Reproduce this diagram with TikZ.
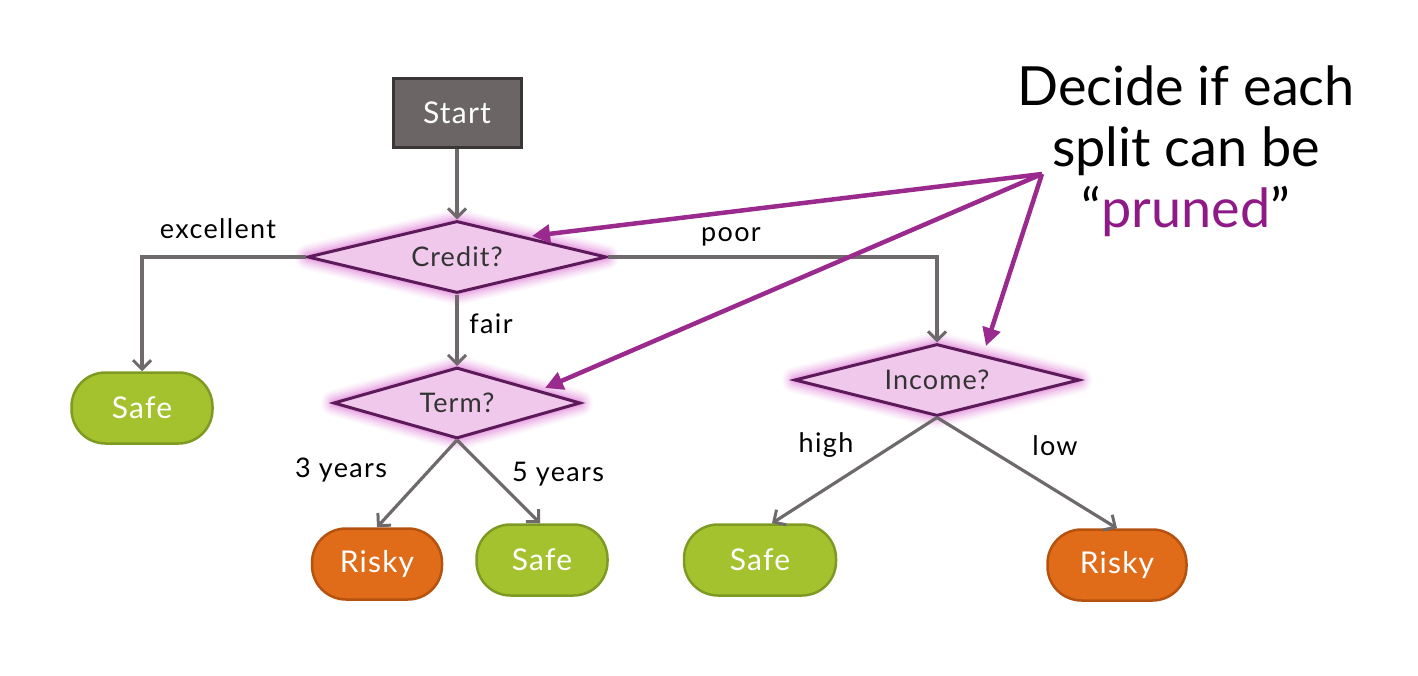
\documentclass[tikz,border=0pt]{standalone}
\usepackage{fontspec}
\setmainfont{Lato}
\newfontfamily\lblfont[LetterSpace=5]{Lato}
\newfontfamily\nodefont[LetterSpace=4]{Lato}
\usetikzlibrary{shapes.geometric,arrows.meta}
\definecolor{startfill}{HTML}{6B6565}
\definecolor{startdraw}{HTML}{3A3636}
\definecolor{dfill}{HTML}{F0C8EC}
\definecolor{ddraw}{HTML}{5C1A5A}
\definecolor{glow}{HTML}{D868D0}
\definecolor{gfill}{HTML}{A4C22E}
\definecolor{gdraw}{HTML}{7E9A22}
\definecolor{ofill}{HTML}{E06C1A}
\definecolor{odraw}{HTML}{B5520F}
\definecolor{conn}{HTML}{6E6A6B}
\definecolor{parrow}{HTML}{9B2A8E}
\definecolor{ptext}{HTML}{8F1A87}
\tikzset{
  startbox/.style={rectangle, fill=startfill, draw=startdraw, line width=3pt, minimum width=128pt, minimum height=69pt, text=white, font=\nodefont\fontsize{30}{36}\selectfont},
  decision/.style={diamond, inner sep=0pt, fill=dfill, draw=ddraw, line width=3pt, text=black!80, font=\nodefont\fontsize{27}{30}\selectfont,
    preaction={draw=glow, draw opacity=0.06, line width=26pt, line join=round},
    preaction={draw=glow, draw opacity=0.08, line width=22pt, line join=round},
    preaction={draw=glow, draw opacity=0.1, line width=18pt, line join=round},
    preaction={draw=glow, draw opacity=0.13, line width=14pt, line join=round},
    preaction={draw=glow, draw opacity=0.17, line width=10pt, line join=round},
    preaction={draw=glow, draw opacity=0.22, line width=6pt, line join=round}},
  safeleaf/.style={rectangle, rounded corners=34pt, fill=gfill, draw=gdraw, line width=2.5pt, minimum height=71pt, text=white, font=\nodefont\fontsize{30}{32}\selectfont},
  riskyleaf/.style={rectangle, rounded corners=34pt, fill=ofill, draw=odraw, line width=2.5pt, minimum height=71pt, text=white, font=\nodefont\fontsize{30}{32}\selectfont},
  conn/.style={draw=conn, line width=3.2pt, -{Straight Barb[length=9pt,width=18pt,line width=3pt]}},
  plink/.style={draw=parrow, line width=4.5pt, -{Triangle[length=18pt,width=18pt]}},
  elabel/.style={text=black, font=\lblfont\fontsize{27}{30}\selectfont, inner sep=0pt},
}
\begin{document}
\begin{tikzpicture}[x=1pt,y=-1pt]
\useasboundingbox (0,0) rectangle (1418,676);
\node[startbox] (start) at (457,113) {Start};
\node[decision, aspect=4.15, minimum width=299pt, minimum height=72pt] (credit) at (457,257) {Credit?};
\node[decision, aspect=3.48, minimum width=247pt, minimum height=71pt] (term) at (457,403) {Term?};
\node[decision, aspect=3.96, minimum width=285pt, minimum height=72pt] (income) at (937,380) {Income?};
\node[safeleaf, minimum width=141pt] (safe1) at (142,408) {Safe};
\node[riskyleaf, minimum width=130pt] (risky1) at (377,564) {Risky};
\node[safeleaf, minimum width=131pt] (safe2) at (542,560) {Safe};
\node[safeleaf, minimum width=152pt] (safe3) at (760,560) {Safe};
\node[riskyleaf, minimum width=139pt] (risky2) at (1117,565) {Risky};

\draw[conn] (start.south) -- (credit.north);
\draw[conn] (credit.west) -| (safe1.north);
\draw[conn] (credit.east) -| (income.north);
\draw[conn] (credit.south) -- (term.north);
\draw[conn] (term.south) -- (risky1.north);
\draw[conn] (term.south) -- ([xshift=-2pt]safe2.north);
\draw[conn] (income.south) -- ([xshift=12pt]safe3.north);
\draw[conn] (income.south) -- (risky2.north);

\node[elabel] (lexc) at (218,229) {excellent};
\node[elabel] (lpoor) at (731,237) {poor};
\node[elabel] (lfair) at (491,324) {fair};
\node[elabel] (l3y) at (341,470) {3 years};
\node[elabel] (l5y) at (558,474) {5 years};
\node[elabel] (lhigh) at (826,445) {high};
\node[elabel] (llow) at (1055,446) {low};

\node[align=center, font=\fontsize{54}{61}\selectfont, text=black] (note) at (1186,151) {Decide if each\\split can be\\``\textcolor{ptext}{pruned}''};
\coordinate (hub) at (1042,174);
\draw[plink] (hub) -- (532,236);
\draw[plink] (hub) -- (545,388);
\draw[plink] (hub) -- (986,346);
\end{tikzpicture}
\end{document}
